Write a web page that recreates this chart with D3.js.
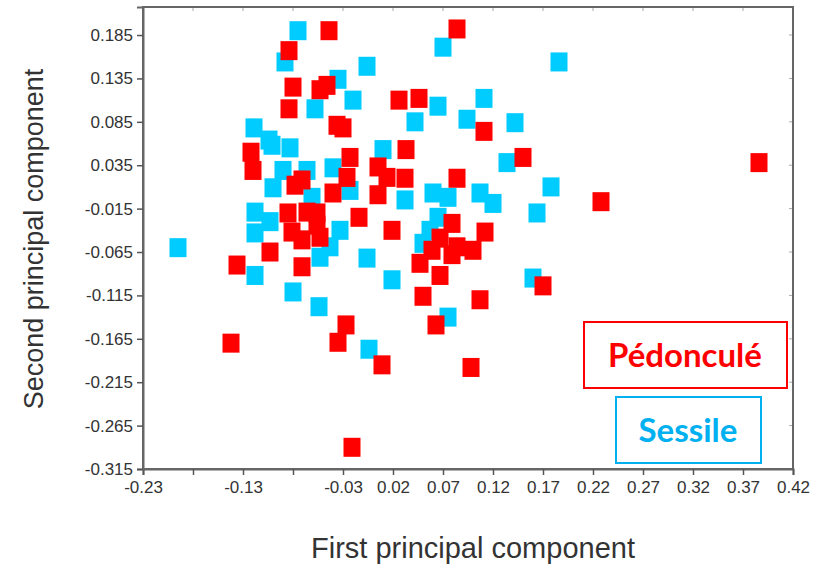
<!DOCTYPE html>
<html>
<head>
<meta charset="utf-8">
<script src="https://cdn.jsdelivr.net/npm/d3@7/dist/d3.min.js"></script>
<style>
  body { margin: 0; background: #fff; }
  .tick text { font-family: "Liberation Sans", Arial, sans-serif; font-size: 17px; fill: #333; }
</style>
</head>
<body>
<div id="chart"></div>
<script>
// axis ticks
const xTicks = [-0.23, -0.18, -0.13, -0.08, -0.03, 0.02, 0.07, 0.12, 0.17, 0.22, 0.27, 0.32, 0.37, 0.42]
const xTickLabels = ['-0.23', '', '-0.13', '', '-0.03', '0.02', '0.07', '0.12', '0.17', '0.22', '0.27', '0.32', '0.37', '0.42']
const yTicks = [0.185, 0.135, 0.085, 0.035, -0.015, -0.065, -0.115, -0.165, -0.215, -0.265, -0.315]
const yTickLabels = ['0.185', '0.135', '0.085', '0.035', '-0.015', '-0.065', '-0.115', '-0.165', '-0.215', '-0.265', '-0.315']

// Sessile (blue)
const sessileX = [-0.075, -0.088, -0.006, -0.035, -0.020, -0.058, -0.119, -0.104, -0.101, -0.083,
  -0.090, -0.066, -0.040, -0.100, -0.061, -0.023, 0.010, -0.118, -0.103, -0.118,
  -0.033, -0.043, -0.053, -0.195, -0.006, -0.118, 0.019, -0.080, -0.054, -0.004,
  0.070, 0.186, 0.065, 0.111, 0.042, 0.094, 0.142, 0.134, 0.032, 0.060,
  0.075, 0.107, 0.120, 0.178, 0.164, 0.065, 0.057, 0.050, 0.160, 0.075]
const sessileY = [0.190, 0.154, 0.149, 0.134, 0.110, 0.100, 0.078, 0.064, 0.058, 0.055,
  0.029, 0.029, 0.032, 0.009, -0.002, 0.006, 0.053, -0.019, -0.030, -0.043,
  -0.040, -0.059, -0.071, -0.060, -0.072, -0.092, -0.097, -0.111, -0.128, -0.177,
  0.171, 0.154, 0.103, 0.112, 0.085, 0.088, 0.084, 0.038, -0.005, 0.003,
  -0.002, 0.003, -0.009, 0.010, -0.020, -0.025, -0.040, -0.055, -0.095, -0.140]

// Pédonculé (red)
const pedX = [-0.044, -0.084, -0.080, -0.053, -0.046, -0.084, -0.036, -0.030, -0.122, -0.120,
  -0.023, -0.026, -0.071, -0.078, -0.040, 0.005, 0.014, 0.005, -0.085, -0.066,
  -0.056, -0.081, -0.056, -0.071, -0.053, -0.014, 0.019, -0.103, -0.071, -0.136,
  -0.027, -0.035, -0.142, 0.009, -0.021, 0.084, 0.026, 0.046, 0.111, 0.033,
  0.150, 0.032, 0.084, 0.228, 0.079, 0.112, 0.067, 0.059, 0.084, 0.100,
  0.079, 0.047, 0.067, 0.170, 0.050, 0.107, 0.063, 0.098, 0.386]
const pedY = [0.190, 0.167, 0.125, 0.122, 0.127, 0.100, 0.081, 0.078, 0.050, 0.029,
  0.044, 0.021, 0.018, 0.012, 0.003, 0.033, 0.021, 0.001, -0.020, -0.019,
  -0.020, -0.042, -0.034, -0.051, -0.048, -0.025, -0.040, -0.065, -0.082, -0.080,
  -0.149, -0.169, -0.170, -0.195, -0.290, 0.192, 0.110, 0.112, 0.074, 0.053,
  0.044, 0.020, 0.020, -0.007, -0.032, -0.042, -0.049, -0.063, -0.059, -0.063,
  -0.068, -0.078, -0.092, -0.104, -0.116, -0.120, -0.149, -0.198, 0.038]

const sessile = sessileX.map((x, i) => ({x: x, y: sessileY[i]}))
const ped = pedX.map((x, i) => ({x: x, y: pedY[i]}))

const W = 831, H = 566
const plot = {left: 143, right: 793, top: 7, bottom: 469}

const xscale = d3.scaleLinear()
  .domain([-0.23, 0.42])
  .range([plot.left, plot.right])

const yscale = d3.scaleLinear()
  .domain([-0.315, 0.2173])
  .range([plot.bottom, plot.top])

const svg = d3.select('#chart')
  .append('svg')
    .attr('width', W)
    .attr('height', H)

svg.append('rect')
  .attr('width', W).attr('height', H)
  .attr('fill', '#fff')

// small inner ticks on top and right edges
svg.append('g')
  .selectAll('line')
  .data(xTicks)
  .enter()
  .append('line')
    .attr('x1', d => xscale(d)).attr('x2', d => xscale(d))
    .attr('y1', plot.top).attr('y2', plot.top + 4)
    .attr('stroke', '#aaa')
svg.append('g')
  .selectAll('line')
  .data(yTicks)
  .enter()
  .append('line')
    .attr('x1', plot.right - 4).attr('x2', plot.right)
    .attr('y1', d => yscale(d)).attr('y2', d => yscale(d))
    .attr('stroke', '#aaa')

// markers: blue first, red on top
const mw = 17, mh = 19
svg.append('g')
  .selectAll('rect')
  .data(sessile)
  .enter()
  .append('rect')
    .attr('x', d => xscale(d.x) - mw / 2)
    .attr('y', d => yscale(d.y) - mh / 2)
    .attr('width', mw)
    .attr('height', mh)
    .style('fill', '#00ccff')

svg.append('g')
  .selectAll('rect')
  .data(ped)
  .enter()
  .append('rect')
    .attr('x', d => xscale(d.x) - mw / 2)
    .attr('y', d => yscale(d.y) - mh / 2)
    .attr('width', mw)
    .attr('height', mh)
    .style('fill', '#ff0000')

// frame
svg.append('rect')
  .attr('x', plot.left).attr('y', plot.top)
  .attr('width', plot.right - plot.left)
  .attr('height', plot.bottom - plot.top)
  .attr('fill', 'none')
  .attr('stroke', '#666')
  .attr('stroke-width', 2)

const bottomAxis = d3.axisBottom(xscale)
  .tickValues(xTicks)
  .tickFormat((d, i) => xTickLabels[i])
  .tickSize(6)
  .tickPadding(6)
const leftAxis = d3.axisLeft(yscale)
  .tickValues(yTicks)
  .tickFormat((d, i) => yTickLabels[i])
  .tickSize(6)
  .tickPadding(4)

const gx = svg.append('g')
  .attr('transform', `translate(0, ${plot.bottom})`)
  .call(bottomAxis)
const gy = svg.append('g')
  .attr('transform', `translate(${plot.left}, 0)`)
  .call(leftAxis)

gx.select('.domain').attr('stroke', '#666').attr('stroke-width', 2)
gy.select('.domain').attr('stroke', '#666').attr('stroke-width', 2)
svg.selectAll('.tick line').attr('stroke', '#555').attr('stroke-width', 1.5)

// axis titles
svg.append('text')
  .attr('x', 473).attr('y', 558)
  .attr('text-anchor', 'middle')
  .style('font-family', '"Liberation Sans", Arial, sans-serif')
  .style('font-size', '29px')
  .style('fill', '#333')
  .text('First principal component')

svg.append('text')
  .attr('transform', 'translate(43, 239) rotate(-90)')
  .attr('text-anchor', 'middle')
  .style('font-family', '"Liberation Sans", Arial, sans-serif')
  .style('font-size', '27px')
  .style('fill', '#333')
  .text('Second principal component')

// legend boxes
svg.append('rect')
  .attr('x', 584).attr('y', 322).attr('width', 203).attr('height', 66)
  .attr('fill', '#fff').attr('stroke', '#ff0000').attr('stroke-width', 2)
svg.append('text')
  .attr('x', 685).attr('y', 367)
  .attr('text-anchor', 'middle')
  .style('font-family', 'Lato, "Open Sans", sans-serif')
  .style('font-weight', 'bold')
  .style('font-size', '33px')
  .style('fill', '#ff0000')
  .text('Pédonculé')

svg.append('rect')
  .attr('x', 616).attr('y', 397).attr('width', 145).attr('height', 66)
  .attr('fill', '#fff').attr('stroke', '#00b0f0').attr('stroke-width', 2)
svg.append('text')
  .attr('x', 688).attr('y', 442)
  .attr('text-anchor', 'middle')
  .style('font-family', 'Lato, "Open Sans", sans-serif')
  .style('font-weight', 'bold')
  .style('font-size', '33px')
  .style('fill', '#00b0f0')
  .text('Sessile')
</script>
</body>
</html>
